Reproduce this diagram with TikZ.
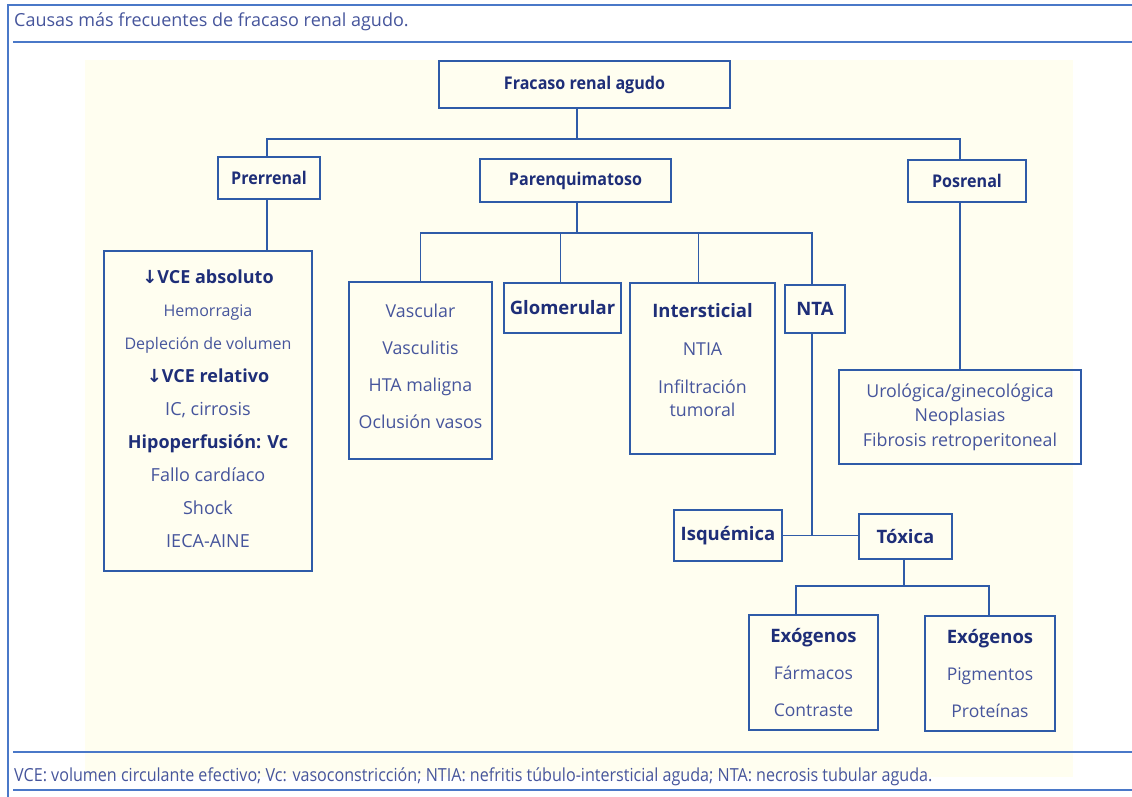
\documentclass[tikz,border=0pt]{standalone}
\usepackage{fontspec}
\setmainfont{Open Sans}
\newfontfamily\cond[FakeStretch=0.92]{Open Sans}
\newfontfamily\footf[FakeStretch=0.895]{Open Sans}
\newfontfamily\arr{DejaVu Sans}
\definecolor{lc}{HTML}{2F5BA8}
\definecolor{fc}{HTML}{4A78C8}
\definecolor{tx}{HTML}{46559C}
\definecolor{bd}{HTML}{1E2E78}
\definecolor{bgc}{HTML}{FFFEF0}
\newcommand{\dn}{{\arr\bfseries ↓}}
\newcommand{\sm}{\fontsize{16}{33}\selectfont}
\begin{document}
\begin{tikzpicture}[x=1pt,y=-1pt,
  box/.style={draw=lc, line width=1.6pt, inner sep=0pt, align=center, text=tx},
  head/.style={box, font=\cond\bfseries\fontsize{17.5}{20}\selectfont, text=bd},
  subh/.style={box, font=\bfseries\fontsize{18.5}{22}\selectfont, text=bd},
  conn/.style={draw=lc, line width=1.6pt},
  frame/.style={draw=fc, line width=1.6pt}]
\useasboundingbox (0,0) rectangle (1132,797);
\fill[white] (0,0) rectangle (1132,797);
\fill[bgc] (85,60) rectangle (1073,777);
% frame
\draw[frame] (1132,5) -- (8,5) -- (8,797);
\draw[frame] (13,42) -- (1132,42);
\draw[frame] (13,752) -- (1132,752);
\draw[frame] (13,790) -- (1132,790);
\node[anchor=west, inner sep=0pt, text=tx, font=\fontsize{18}{22}\selectfont] (title) at (14,22) {Causas más frecuentes de fracaso renal agudo.};
\node[anchor=west, inner sep=0pt, text=tx, font=\footf\fontsize{18}{22}\selectfont] (foot) at (14,777) {VCE: volumen circulante efectivo; Vc: vasoconstricción; NTIA: nefritis túbulo-intersticial aguda; NTA: necrosis tubular aguda.};
% top levels
\node[head, minimum width=291pt, minimum height=47pt] (fra) at (584.5,84.5) {Fracaso renal agudo};
\node[head, minimum width=102pt, minimum height=42pt] (pre) at (269,178) {Prerrenal};
\node[head, minimum width=191pt, minimum height=43pt] (par) at (575.5,180.5) {Parenquimatoso};
\node[head, minimum width=118pt, minimum height=42pt] (pos) at (967,181) {Posrenal};
% prerrenal list
\node[box, minimum width=208pt, minimum height=320pt, font=\fontsize{18}{33}\selectfont, text height=276pt, text depth=3pt] (prl) at (208,411)
 {{\bfseries\color{bd}\dn VCE absoluto}\\{\sm Hemorragia}\\{\sm Depleción de volumen}\\{\bfseries\color{bd}\dn VCE relativo}\\IC, cirrosis\\{\bfseries\color{bd}Hipoperfusión: Vc}\\Fallo cardíaco\\Shock\\IECA-AINE};
% parenquimatoso children
\node[box, minimum width=143pt, minimum height=177pt, font=\fontsize{17.8}{37}\selectfont, text height=121pt, text depth=5pt] (vas) at (420.5,370.5)
 {Vascular\\Vasculitis\\HTA maligna\\Oclusión vasos};
\node[subh, minimum width=117pt, minimum height=50pt] (glo) at (562.5,308) {Glomerular};
\node[box, minimum width=145pt, minimum height=171pt, font=\fontsize{17.8}{23}\selectfont, text height=131pt, text depth=36pt] (int) at (702.5,368.5)
 {{\fontsize{18.5}{23}\selectfont\bfseries\color{bd}Intersticial}\\[15pt]NTIA\\[15pt]Infiltración\\tumoral};
\node[subh, minimum width=60pt, minimum height=48pt] (nta) at (815,309) {NTA};
% posrenal list
\node[box, minimum width=242pt, minimum height=94pt, font=\fontsize{17.8}{24.5}\selectfont] (psl) at (960,417)
 {Urológica/ginecológica\\Neoplasias\\Fibrosis retroperitoneal};
% NTA children
\node[subh, minimum width=108pt, minimum height=51pt] (isq) at (728,535.5) {Isquémica};
\node[subh, minimum width=93pt, minimum height=45pt] (tox) at (905.5,536.5) {Tóxica};
\node[box, minimum width=129pt, minimum height=115pt, font=\fontsize{17.5}{37}\selectfont] (ex1) at (813.5,672.5)
 {{\fontsize{18.5}{37}\selectfont\bfseries\color{bd}Exógenos}\\Fármacos\\Contraste};
\node[box, minimum width=130pt, minimum height=115pt, font=\fontsize{17.5}{37}\selectfont] (ex2) at (990,673.5)
 {{\fontsize{18.5}{37}\selectfont\bfseries\color{bd}Exógenos}\\Pigmentos\\Proteínas};
% connectors
\coordinate (j1) at (577,139);
\coordinate (j2) at (577,233);
\coordinate (j4) at (904,586);
\draw[conn] (j1 |- fra.south) -- (j1);
\draw[conn] ([xshift=-2pt]pre.north) |- (j1) -| (pos.north -| psl.north);
\draw[conn] (par.south -| j2) -- (j2);
\draw[conn] ([xshift=-2pt]pre.south) -- ([xshift=-2pt]pre.south |- prl.north);
\draw[conn] (pos.south -| psl.north) -- (psl.north);
\draw[conn] (vas.north) |- (j2) -| ([xshift=-3pt]nta.north);
\draw[conn] ([xshift=-2pt]glo.north) -- ([xshift=-2pt]glo.north |- j2);
\draw[conn] ([xshift=-4pt]int.north) -- ([xshift=-4pt]int.north |- j2);
\draw[conn] ([xshift=-3pt]nta.south) -- ([xshift=-3pt]nta.south |- isq.east);
\draw[conn] (isq.east) -- (isq.east -| tox.west);
\draw[conn] ([xshift=-1.5pt]tox.south) -- (j4);
\draw[conn] ([xshift=-17.5pt]ex1.north) |- (j4) -| ([xshift=-1pt]ex2.north);
\end{tikzpicture}
\end{document}
